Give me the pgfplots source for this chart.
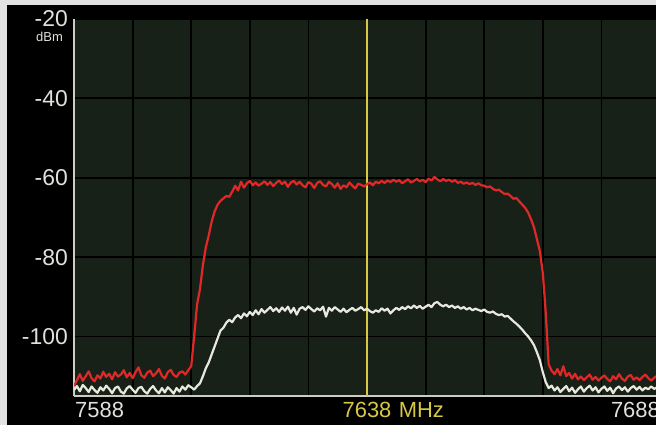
\documentclass[border=0pt]{standalone}
\usepackage{pgfplots}
\pgfplotsset{compat=1.18}
\usepackage{pgfplotstable}
\usepackage{fontspec}
\setmainfont{Liberation Sans}

\definecolor{plotbg}{RGB}{23,33,24}
\definecolor{axgray}{RGB}{205,205,195}
\definecolor{lbl}{RGB}{225,225,220}
\definecolor{ylw}{RGB}{215,200,70}
\definecolor{trred}{RGB}{225,40,40}
\definecolor{trwhite}{RGB}{232,232,222}
\definecolor{frame}{RGB}{226,226,226}

% spectrum traces: frequency (MHz), red trace, white trace (dBm)
\pgfplotstableread{
f      red     white
7588.0 -112.5 -113.5
7588.5 -111.0 -112.5
7589.0 -109.5 -113.8
7589.5 -111.2 -112.2
7590.0 -110.0 -113.0
7590.5 -108.8 -114.0
7591.0 -110.5 -112.6
7591.5 -111.3 -113.5
7592.0 -109.8 -114.2
7592.5 -110.6 -112.8
7593.0 -108.9 -113.6
7593.5 -110.2 -112.4
7594.0 -109.4 -113.2
7594.5 -110.8 -114.3
7595.0 -109.0 -113.0
7595.5 -110.1 -112.6
7596.0 -109.6 -113.9
7596.5 -108.5 -114.4
7597.0 -110.3 -113.1
7597.5 -109.2 -112.5
7598.0 -110.5 -113.4
7598.5 -109.0 -114.2
7599.0 -107.8 -113.0
7599.5 -109.8 -112.7
7600.0 -110.4 -113.8
7600.5 -109.1 -114.4
7601.0 -108.6 -113.2
7601.5 -110.0 -112.5
7602.0 -109.3 -113.6
7602.5 -108.2 -114.3
7603.0 -109.9 -113.0
7603.5 -110.6 -114.1
7604.0 -109.0 -112.8
7604.5 -108.4 -113.5
7605.0 -109.7 -114.4
7605.5 -110.2 -113.0
7606.0 -109.1 -113.9
7606.5 -108.8 -112.6
7607.0 -109.6 -113.4
7607.5 -108.5 -112.3
7608.0 -107.5 -112.8
7608.5 -100.0 -113.4
7609.0 -92.0 -112.5
7609.5 -88.0 -111.8
7610.0 -82.0 -110.0
7610.5 -77.5 -108.0
7611.0 -74.5 -106.5
7611.5 -71.0 -104.5
7612.0 -68.5 -102.5
7612.5 -66.8 -100.5
7613.0 -65.8 -98.5
7613.5 -65.2 -97.8
7614.0 -64.6 -96.5
7614.5 -64.8 -95.8
7615.0 -63.5 -96.4
7615.5 -62.0 -95.2
7616.0 -63.2 -94.6
7616.5 -61.0 -95.4
7617.0 -62.5 -94.2
7617.5 -61.4 -94.9
7618.0 -60.8 -93.8
7618.5 -61.9 -94.6
7619.0 -61.2 -93.4
7619.5 -62.0 -94.4
7620.0 -61.5 -93.1
7620.5 -60.9 -94.0
7621.0 -61.8 -93.3
7621.5 -61.1 -92.6
7622.0 -62.1 -93.6
7622.5 -61.3 -92.9
7623.0 -60.7 -93.8
7623.5 -61.6 -92.7
7624.0 -61.0 -93.5
7624.5 -62.3 -92.5
7625.0 -61.2 -94.0
7625.5 -60.8 -92.8
7626.0 -61.7 -94.5
7626.5 -61.0 -93.0
7627.0 -61.9 -92.6
7627.5 -62.4 -93.3
7628.0 -61.1 -92.4
7628.5 -61.5 -93.1
7629.0 -62.6 -93.7
7629.5 -61.3 -92.9
7630.0 -60.9 -93.4
7630.5 -61.8 -92.5
7631.0 -62.2 -95.0
7631.5 -61.0 -92.8
7632.0 -61.6 -93.5
7632.5 -62.5 -92.6
7633.0 -61.4 -93.2
7633.5 -62.8 -93.8
7634.0 -61.9 -93.0
7634.5 -62.4 -93.9
7635.0 -61.2 -93.3
7635.5 -62.0 -92.8
7636.0 -62.7 -93.5
7636.5 -61.5 -93.1
7637.0 -61.8 -92.6
7637.5 -62.2 -93.4
7638.0 -61.6 -93.0
7638.5 -61.2 -93.6
7639.0 -61.9 -94.0
7639.5 -61.0 -93.4
7640.0 -61.4 -93.8
7640.5 -60.8 -92.9
7641.0 -61.3 -93.5
7641.5 -60.7 -93.0
7642.0 -61.1 -94.2
7642.5 -60.5 -93.4
7643.0 -61.0 -92.8
7643.5 -60.6 -93.3
7644.0 -61.4 -92.6
7644.5 -60.9 -93.1
7645.0 -60.4 -92.4
7645.5 -61.2 -92.9
7646.0 -60.8 -92.2
7646.5 -60.3 -92.8
7647.0 -60.9 -92.3
7647.5 -60.5 -93.0
7648.0 -61.1 -92.5
7648.5 -60.2 -92.0
7649.0 -60.7 -92.6
7649.5 -59.8 -91.6
7650.0 -60.4 -91.3
7650.5 -60.9 -92.0
7651.0 -60.3 -92.4
7651.5 -60.8 -92.0
7652.0 -60.5 -92.6
7652.5 -61.0 -92.2
7653.0 -60.6 -92.8
7653.5 -61.3 -92.4
7654.0 -61.0 -93.0
7654.5 -61.5 -92.6
7655.0 -61.2 -93.2
7655.5 -61.6 -92.8
7656.0 -61.3 -93.4
7656.5 -61.8 -93.0
7657.0 -61.4 -93.3
7657.5 -61.9 -93.6
7658.0 -62.0 -93.2
7658.5 -62.4 -93.8
7659.0 -62.2 -94.0
7659.5 -62.8 -93.7
7660.0 -63.2 -94.3
7660.5 -63.0 -94.6
7661.0 -63.6 -94.4
7661.5 -64.1 -95.0
7662.0 -64.0 -94.8
7662.5 -64.6 -95.5
7663.0 -65.3 -96.2
7663.5 -65.1 -96.8
7664.0 -66.0 -97.5
7664.5 -66.8 -98.3
7665.0 -67.6 -99.2
7665.5 -68.8 -100.0
7666.0 -70.5 -101.0
7666.5 -72.5 -102.2
7667.0 -75.5 -104.0
7667.5 -78.5 -106.0
7668.0 -84.0 -109.0
7668.5 -94.0 -111.5
7669.0 -107.0 -113.0
7669.5 -108.6 -112.4
7670.0 -109.5 -113.6
7670.5 -108.2 -112.8
7671.0 -109.8 -114.0
7671.5 -107.5 -113.2
7672.0 -110.0 -112.5
7672.5 -109.2 -113.8
7673.0 -110.6 -112.9
7673.5 -109.4 -114.2
7674.0 -110.8 -113.3
7674.5 -110.1 -112.6
7675.0 -111.0 -113.9
7675.5 -110.3 -113.0
7676.0 -109.6 -112.4
7676.5 -110.9 -113.6
7677.0 -110.2 -112.8
7677.5 -111.1 -114.1
7678.0 -110.4 -113.2
7678.5 -109.8 -112.6
7679.0 -110.7 -113.7
7679.5 -111.3 -112.9
7680.0 -110.0 -114.3
7680.5 -110.8 -113.1
7681.0 -109.5 -112.6
7681.5 -110.6 -113.5
7682.0 -111.2 -112.8
7682.5 -110.1 -113.9
7683.0 -109.7 -113.0
7683.5 -110.9 -112.5
7684.0 -110.3 -113.4
7684.5 -111.0 -112.7
7685.0 -110.2 -113.6
7685.5 -109.6 -112.9
7686.0 -110.5 -113.3
7686.5 -111.1 -112.6
7687.0 -110.4 -113.2
7687.5 -109.9 -112.8
7688.0 -110.6 -113.4
}\trace

\begin{document}
\begin{tikzpicture}[x=1bp,y=1bp]
% screen background
\fill[black] (0,0) rectangle (656,425);
\fill[frame] (0,0) rectangle (7,425);
\fill[frame] (0,420) rectangle (656,425);

\begin{axis}[
    at={(74bp,29bp)}, anchor=south west,
    scale only axis,
    width=586bp, height=377bp,
    xmin=7588, xmax=7688,
    ymin=-115, ymax=-20,
    clip mode=individual,
    axis background/.style={fill=plotbg},
    axis x line=bottom, axis y line=left,
    axis line style={-, draw=axgray, line width=2bp},
    xtick={7588,7598,...,7688},
    xticklabels={},
    ytick={-100,-80,-60,-40,-20},
    yticklabels={-100,-80,-60,-40,-20},
    major tick length=0pt,
    yticklabel style={font=\fontsize{23}{23}\selectfont, text=lbl,
                      anchor=east, inner sep=0pt, xshift=-6bp},
    grid=major,
    major grid style={black, line width=1.8bp},
    every axis plot/.append style={line join=round},
]
\addplot[ylw, line width=1.5bp] coordinates {(7638,-115) (7638,-20)};
\addplot[trwhite, line width=2.2bp] table[x=f, y=white] {\trace};
\addplot[trred, line width=2.2bp] table[x=f, y=red] {\trace};

\node[anchor=north east, inner sep=0pt, text=lbl, font=\fontsize{13}{13}\selectfont]
    at ([xshift=-11bp, yshift=-13bp]rel axis cs:0,1) {dBm};
\node[anchor=north west, inner sep=0pt, text=lbl, font=\fontsize{22}{22}\selectfont]
    at ([xshift=1bp, yshift=-6bp]rel axis cs:0,0) {7588};
\node[anchor=north, inner sep=0pt, text=ylw, font=\fontsize{22}{22}\selectfont]
    (mid) at ([yshift=-6bp]axis cs:7638,-115) {7638};
\node[anchor=north west, inner sep=0pt, text=ylw, font=\fontsize{22}{22}\selectfont]
    at ([xshift=7bp]mid.north east) {MHz};
\node[anchor=north east, inner sep=0pt, text=lbl, font=\fontsize{22}{22}\selectfont]
    at ([yshift=-6bp]rel axis cs:1,0) {7688};
\end{axis}
\pgfresetboundingbox
\useasboundingbox (0,0) rectangle (656,425);
\end{tikzpicture}
\end{document}
